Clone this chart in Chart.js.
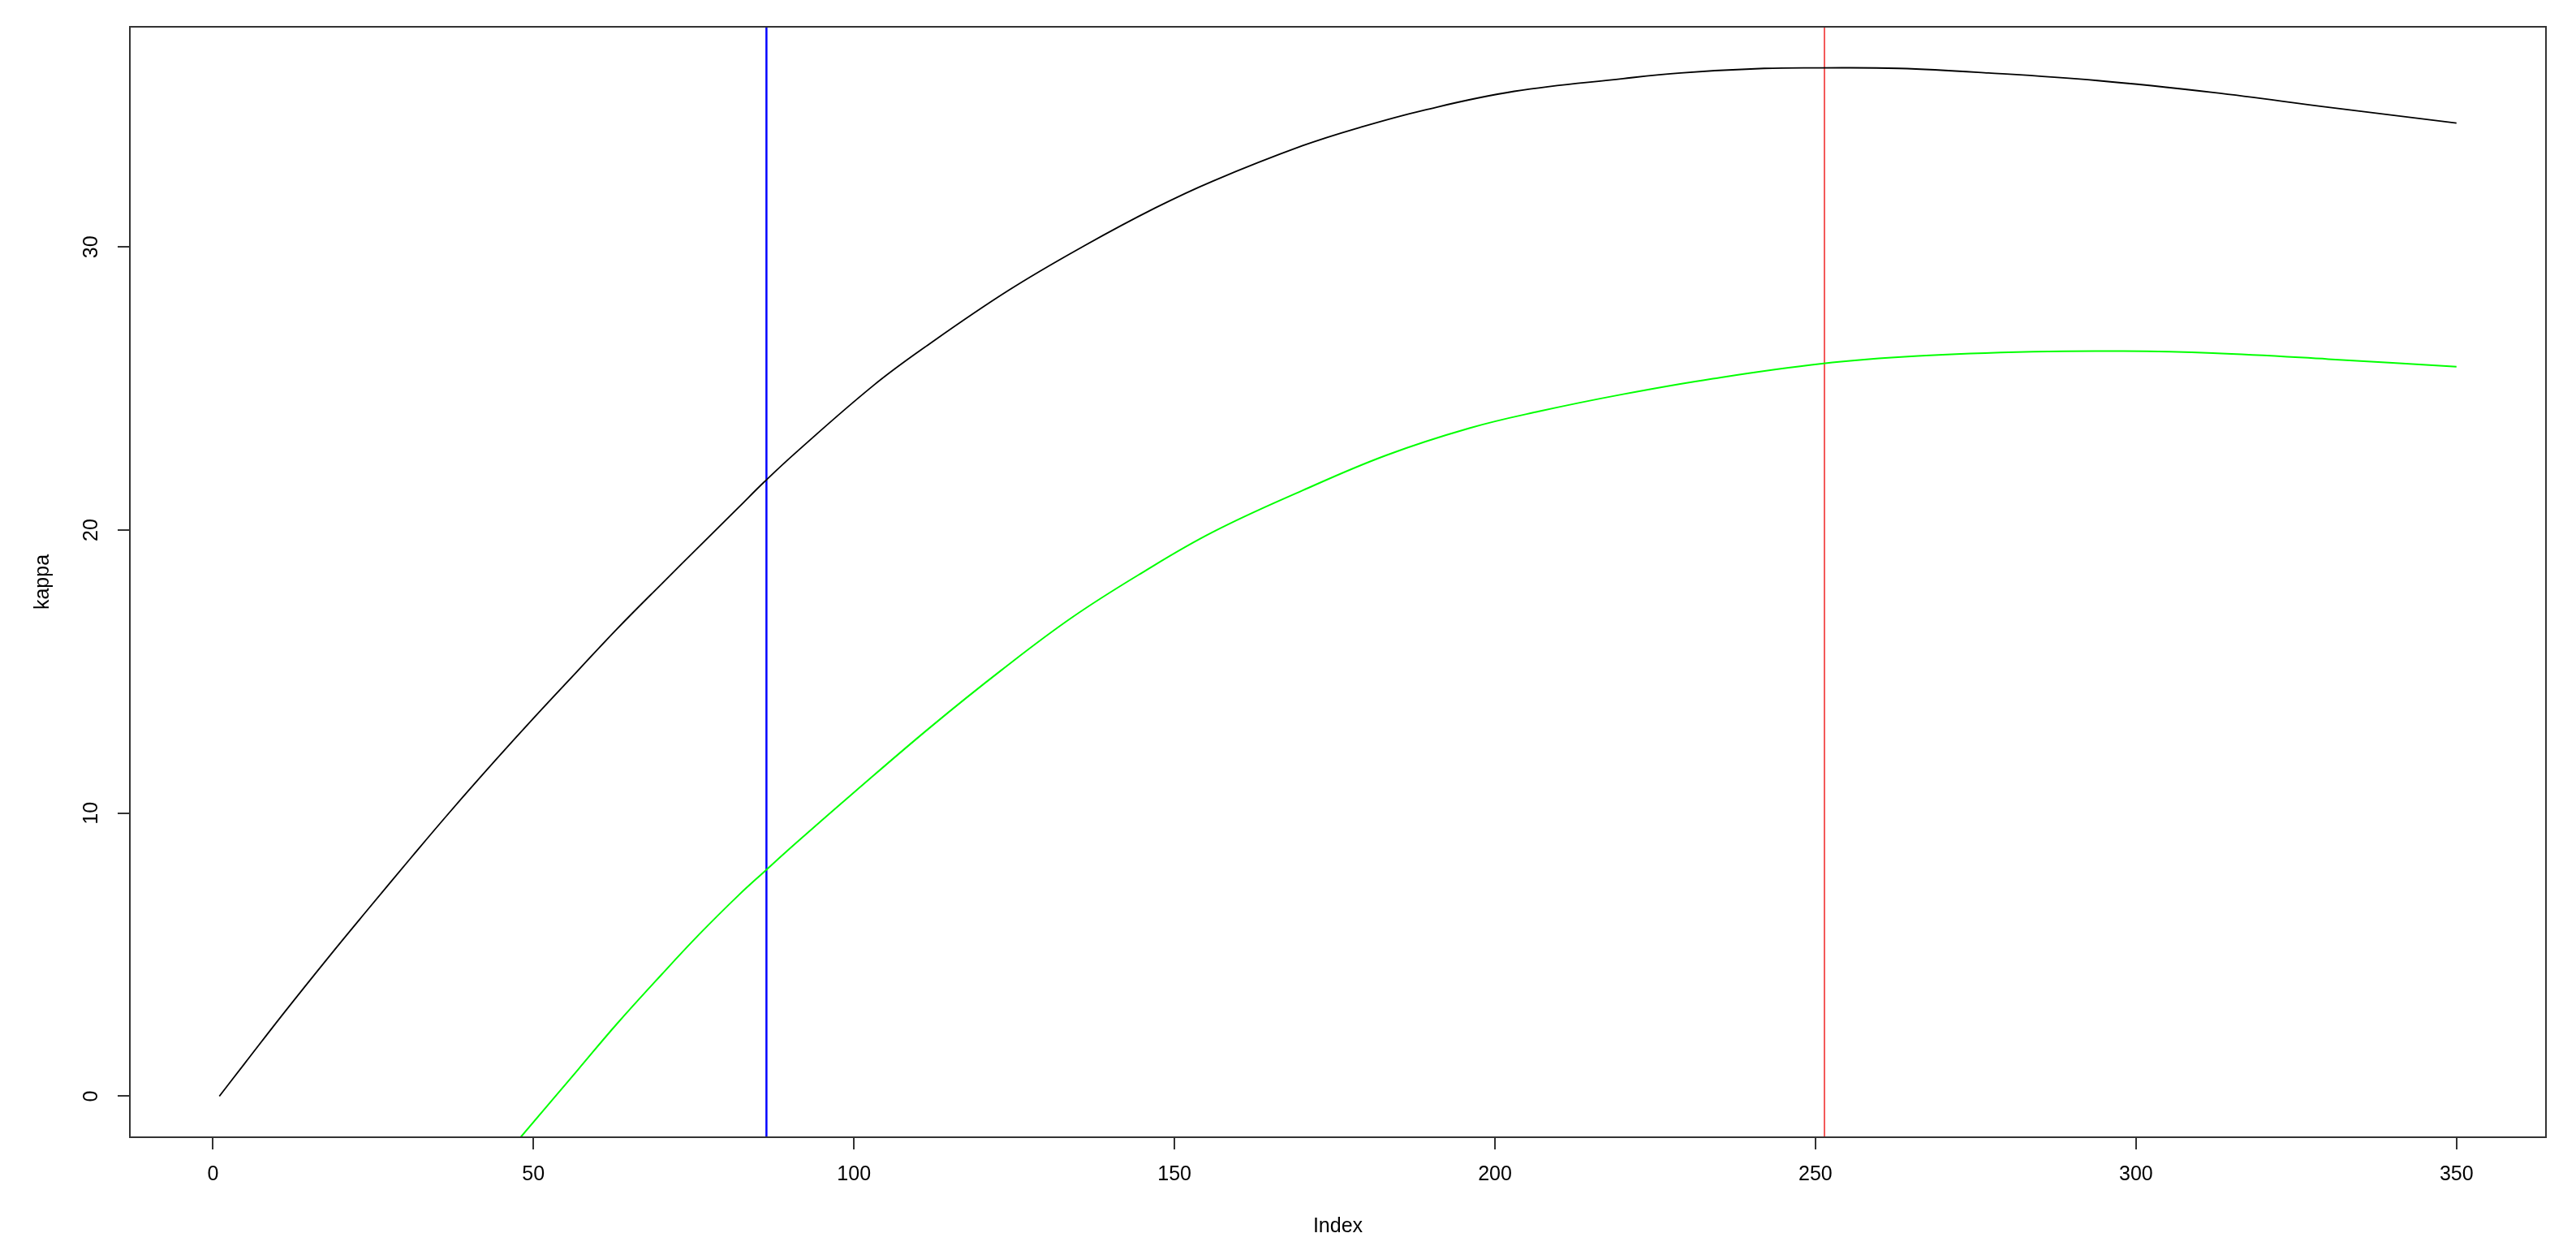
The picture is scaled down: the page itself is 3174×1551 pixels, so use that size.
<!DOCTYPE html>
<html>
<head>
<meta charset="utf-8">
<title>kappa</title>
<script src="https://cdn.jsdelivr.net/npm/chart.js@4.4.1/dist/chart.umd.min.js"></script>
<style>
  html, body { margin: 0; padding: 0; background: #fff; }
  canvas { display: block; }
</style>
</head>
<body>
<canvas id="chart" width="3174" height="1551"></canvas>
<script>
// values
const blackIndex = [1, 5, 11, 18, 24, 31, 37, 44, 50, 57, 63, 70, 76, 82, 86, 91, 103, 111, 124, 136, 147, 156, 170, 179, 189, 203, 220, 229, 242, 251, 263, 277, 294, 312, 330, 350];
const blackKappa = [0, 1.17, 2.92, 4.90, 6.55, 8.45, 10.05, 11.85, 13.35, 15.05, 16.50, 18.10, 19.45, 20.80, 21.70, 22.75, 25.10, 26.45, 28.45, 30.05, 31.38, 32.33, 33.58, 34.23, 34.84, 35.50, 35.95, 36.15, 36.31, 36.33, 36.31, 36.15, 35.88, 35.46, 34.94, 34.38];

const greenIndex = [48, 57, 63, 70, 76, 82, 86, 91, 100, 112, 123, 134, 145, 156, 170, 183, 196, 207, 220, 234, 251, 266, 284, 298, 312, 330, 350];
const greenKappa = [-1.45, 0.95, 2.55, 4.30, 5.75, 7.10, 7.93, 8.95, 10.73, 13.05, 15.05, 16.91, 18.50, 19.93, 21.40, 22.64, 23.60, 24.20, 24.80, 25.35, 25.88, 26.15, 26.30, 26.32, 26.25, 26.04, 25.77];

const blueAt = 86.35;
const redAt = 251.4;

const xTicks = [0, 50, 100, 150, 200, 250, 300, 350];
const yTicks = [0, 10, 20, 30];
const xRange = [-12.96, 363.96];
const yRange = [-1.45, 37.78];

const font = { family: '"Liberation Sans", Arial, sans-serif', size: 25 };

function points(xs, ys) {
  return xs.map((x, i) => ({ x: x, y: ys[i] }));
}

function vline(at) {
  return [{ x: at, y: yRange[0] }, { x: at, y: yRange[1] }];
}

// R style box round the plot region
const boxPlugin = {
  id: 'box',
  afterDraw(chart) {
    const a = chart.chartArea;
    const ctx = chart.ctx;
    ctx.save();
    ctx.strokeStyle = '#333';
    ctx.lineWidth = 2;
    ctx.strokeRect(a.left, a.top, a.right - a.left, a.bottom - a.top);
    ctx.restore();
  }
};

Chart.defaults.font = font;
Chart.defaults.color = '#000';

const ctx = document.getElementById('chart').getContext('2d');
new Chart(ctx, {
  type: 'line',
  data: {
    datasets: [
      { data: points(blackIndex, blackKappa), borderColor: '#000', borderWidth: 1.8, tension: 0.4 },
      { data: points(greenIndex, greenKappa), borderColor: '#00ff00', borderWidth: 2, tension: 0.4 },
      { data: vline(blueAt), borderColor: '#0000ff', borderWidth: 2.5 },
      { data: vline(redAt), borderColor: '#ee0000', borderWidth: 1.3 }
    ]
  },
  options: {
    responsive: false,
    animation: false,
    devicePixelRatio: 1,
    layout: { padding: { left: 0, top: 31, right: 37, bottom: 0 } },
    elements: { point: { radius: 0 } },
    plugins: { legend: { display: false }, tooltip: { enabled: false } },
    scales: {
      x: {
        type: 'linear',
        min: xRange[0],
        max: xRange[1],
        afterBuildTicks: s => { s.ticks = xTicks.map(v => ({ value: v })); },
        afterFit: s => { s.height = 150; },
        grid: { drawOnChartArea: false, drawTicks: true, tickLength: 15, color: '#333', lineWidth: 2 },
        border: { display: true, color: '#333', width: 2 },
        ticks: { padding: 16, maxRotation: 0, font: font },
        title: { display: true, text: 'Index', font: font, padding: { top: 0, bottom: 25 } }
      },
      y: {
        type: 'linear',
        min: yRange[0],
        max: yRange[1],
        afterBuildTicks: s => { s.ticks = yTicks.map(v => ({ value: v })); },
        afterFit: s => { s.width = 160; },
        grid: { drawOnChartArea: false, drawTicks: true, tickLength: 15, color: '#333', lineWidth: 2 },
        border: { display: true, color: '#333', width: 2 },
        ticks: { padding: 18, minRotation: 90, maxRotation: 90, crossAlign: 'center', font: font },
        title: { display: true, text: 'kappa', font: font, padding: { top: 38, bottom: 0 } }
      }
    }
  },
  plugins: [boxPlugin]
});
</script>
</body>
</html>
